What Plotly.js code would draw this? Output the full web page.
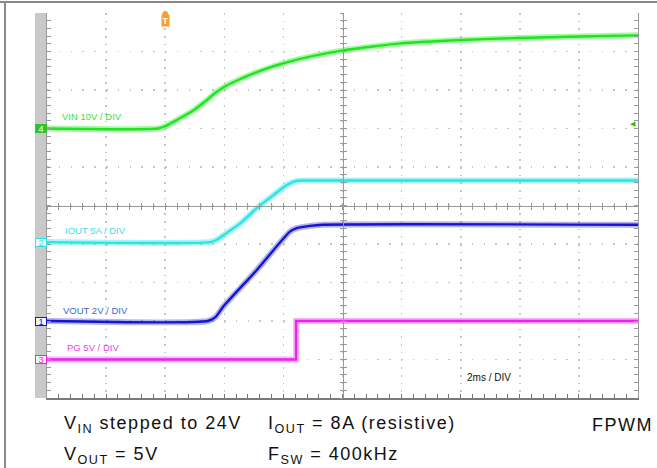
<!DOCTYPE html>
<html>
<head>
<meta charset="utf-8">
<script src="https://cdn.plot.ly/plotly-3.0.1.min.js"></script>
<style>
  html, body { margin: 0; padding: 0; background: #fff; }
  #chart { width: 657px; height: 468px; }
  .annotation-text[style*="font-size: 18px"] { letter-spacing: 1.5px; }
</style>
</head>
<body>
<div id="chart"></div>
<script>
// ---- time base (ms), 2 ms / div, trigger at t = 0 ----
const timeRange = [-4, 16];

// ---- channel data (read from the scope capture) ----
const vinTime = [-4, -0.25, 0.0, 0.44, 0.90, 1.35, 1.69, 2.02, 2.47, 2.93, 3.38, 3.72, 4.56, 5.24, 6.02, 6.93, 7.95, 10.0, 12.0, 14.0, 16.0];
const vinVolts = [0, 0, 0.6, 2.4, 4.4, 7.0, 9.2, 10.9, 12.6, 14.1, 15.4, 16.3, 18.1, 19.2, 20.3, 21.2, 22.1, 23.0, 23.5, 23.9, 24.2];

const ioutTime = [-4, 1.52, 1.75, 1.97, 2.53, 3.10, 3.66, 4.11, 4.45, 4.79, 16.0];
const ioutAmps = [0, 0, 0.3, 0.9, 2.4, 4.4, 6.1, 7.4, 7.95, 8.0, 8.0];

const voutTime = [-4, 1.45, 1.7, 1.96, 3.10, 4.22, 4.45, 4.9, 5.34, 16.0];
const voutVolts = [0, 0, 0.2, 0.74, 2.65, 4.64, 4.82, 4.94, 5.0, 5.0];

const pgTime = [-4, 4.43, 4.43, 16.0];
const pgVolts = [0, 0, 5.0, 5.0];

// ---- channel settings ----
const chNames = ['VIN', 'IOUT', 'VOUT', 'PG'];
const chNumbers = ['4', '2', '1', '3'];
const chLabels = ['VIN 10V / DIV', 'IOUT 5A / DIV', 'VOUT 2V / DIV', 'PG 5V / DIV'];
const chPerDiv = [10, 5, 2, 5];
const chZeroDiv = [2, -0.95, -3, -4];
const trigLevelVIN = 1.2;
const timeLabel = '2ms / DIV';
const noteLines = [
  ['V<sub>IN</sub> stepped to 24V', 'I<sub>OUT</sub> = 8A (resistive)', 'FPWM'],
  ['V<sub>OUT</sub> = 5V', 'F<sub>SW</sub> = 400kHz', '']
];

// ---- styling ----
const traceColors = ['#1fe41f', '#2ee3e3', '#1414d4', '#ee22ee'];
const haloColors = ['rgba(60,240,60,0.45)', 'rgba(60,235,235,0.45)', 'rgba(40,40,220,0.35)', 'rgba(240,60,240,0.4)'];
const labelColors = ['#3ddc3d', '#3ddede', '#3a68d0', '#ee3aee'];
const lineShapes = ['spline', 'spline', 'spline', 'linear'];
const font = 'Arial, "Liberation Sans", sans-serif';
const yIds = ['y', 'y2', 'y3', 'y4'];
const yKeys = ['yaxis', 'yaxis2', 'yaxis3', 'yaxis4'];

const series = [
  [vinTime, vinVolts],
  [ioutTime, ioutAmps],
  [voutTime, voutVolts],
  [pgTime, pgVolts]
];

const traces = [];
series.forEach((s, i) => {
  traces.push({x: s[0], y: s[1], xaxis: 'x', yaxis: yIds[i], mode: 'lines', hoverinfo: 'skip',
    line: {color: haloColors[i], width: 6, shape: lineShapes[i], smoothing: 0.6}});
  traces.push({x: s[0], y: s[1], xaxis: 'x', yaxis: yIds[i], mode: 'lines', hoverinfo: 'skip',
    line: {color: traceColors[i], width: 2.4, shape: lineShapes[i], smoothing: 0.6}});
});
// empty traces so the centre cross-hair axes get drawn
traces.push({x: [], y: [], xaxis: 'x2', yaxis: 'y', mode: 'lines', hoverinfo: 'skip'});
traces.push({x: [], y: [], xaxis: 'x3', yaxis: 'y', mode: 'lines', hoverinfo: 'skip'});
traces.push({x: [], y: [], xaxis: 'x', yaxis: 'y5', mode: 'lines', hoverinfo: 'skip'});
traces.push({x: [], y: [], xaxis: 'x', yaxis: 'y6', mode: 'lines', hoverinfo: 'skip'});

// plot area geometry helpers (paper coords)
const W = 657, H = 468, L = 47, R = 19, T = 13, B = 70;
const pw = W - L - R, ph = H - T - B;
const px = v => (v - L) / pw;
const py = v => (H - B - v) / ph;

const gridCol = '#c6c6c6';
const edgeCol = '#7a7a7a';
const centerCol = '#9a9a9a';

const chRange = i => [(-5 - chZeroDiv[i]) * chPerDiv[i], (5 - chZeroDiv[i]) * chPerDiv[i]];

const layout = {
  width: W, height: H,
  margin: {l: L, r: R, t: T, b: B, pad: 0},
  paper_bgcolor: '#ffffff', plot_bgcolor: '#ffffff',
  showlegend: false,
  font: {family: font},
  xaxis: {
    range: timeRange, dtick: 2, tick0: 0, showticklabels: false, zeroline: false,
    showgrid: true, gridcolor: gridCol, gridwidth: 1.6, griddash: '1.6px,6.1px',
    showline: true, linecolor: edgeCol, linewidth: 1.5,
    ticks: 'inside', ticklen: 4, tickcolor: edgeCol, tickwidth: 1,
    minor: {dtick: 0.4, tick0: 0, ticks: 'inside', ticklen: 4, tickcolor: edgeCol, showgrid: false},
    fixedrange: true
  },
  // main y axis = VIN channel; its divisions form the screen grid
  yaxis: {
    range: chRange(0), dtick: chPerDiv[0], tick0: 0, showticklabels: false, zeroline: false,
    showgrid: true, gridcolor: gridCol, gridwidth: 1.6, griddash: '1.6px,10.2px',
    showline: true, linecolor: centerCol, linewidth: 1.2, mirror: 'ticks',
    ticks: 'inside', ticklen: 4, tickcolor: centerCol, tickwidth: 1,
    minor: {dtick: chPerDiv[0] / 5, tick0: 0, ticks: 'inside', ticklen: 4, tickcolor: centerCol, showgrid: false},
    fixedrange: true
  },
  xaxis2: {overlaying: 'x', anchor: 'free', position: 0.5, range: timeRange, dtick: 2, tick0: 0,
    showticklabels: false, showgrid: false, zeroline: false,
    showline: true, linecolor: centerCol, linewidth: 1,
    ticks: 'inside', ticklen: 3, tickcolor: centerCol,
    minor: {dtick: 0.4, tick0: 0, ticks: 'inside', ticklen: 3, tickcolor: centerCol, showgrid: false}},
  xaxis3: {overlaying: 'x', anchor: 'free', position: 0.5, range: timeRange, dtick: 2, tick0: 0,
    showticklabels: false, showgrid: false, zeroline: false, showline: false,
    ticks: 'outside', ticklen: 3, tickcolor: centerCol,
    minor: {dtick: 0.4, tick0: 0, ticks: 'outside', ticklen: 3, tickcolor: centerCol, showgrid: false}},
  yaxis5: {overlaying: 'y', anchor: 'free', position: 0.5, range: [-5, 5], dtick: 1, tick0: 0,
    showticklabels: false, showgrid: false, zeroline: false,
    showline: true, linecolor: centerCol, linewidth: 1,
    ticks: 'inside', ticklen: 3, tickcolor: centerCol,
    minor: {dtick: 0.2, tick0: 0, ticks: 'inside', ticklen: 3, tickcolor: centerCol, showgrid: false}},
  yaxis6: {overlaying: 'y', anchor: 'free', position: 0.5, range: [-5, 5], dtick: 1, tick0: 0,
    showticklabels: false, showgrid: false, zeroline: false, showline: false,
    ticks: 'outside', ticklen: 3, tickcolor: centerCol,
    minor: {dtick: 0.2, tick0: 0, ticks: 'outside', ticklen: 3, tickcolor: centerCol, showgrid: false}},
  shapes: [
    // grey channel strip on the left
    {type: 'rect', xref: 'paper', yref: 'paper', x0: px(35), x1: 0, y0: 0, y1: 1,
      fillcolor: '#c9c9c9', line: {width: 0}, layer: 'below'},
    // outer frame (top and left)
    {type: 'line', xref: 'paper', yref: 'paper', x0: px(0), x1: px(657), y0: py(2), y1: py(2),
      line: {color: '#8a8a8a', width: 2}},
    {type: 'line', xref: 'paper', yref: 'paper', x0: px(5), x1: px(5), y0: py(2), y1: py(468),
      line: {color: '#8a8a8a', width: 2}},
    // trigger marker cap
    {type: 'circle', xref: 'x', yref: 'paper', x0: -0.1, x1: 0.1,
      y0: py(17), y1: py(11), fillcolor: '#f2a22c', line: {width: 0}}
  ],
  annotations: []
};

for (let i = 1; i < 4; i++) {
  layout[yKeys[i]] = {overlaying: 'y', range: chRange(i), visible: false, fixedrange: true};
}

// channel ground markers
for (let i = 0; i < 4; i++) {
  const active = i === 0;
  layout.annotations.push({
    xref: 'paper', yref: yIds[i], x: px(35), y: 0, xanchor: 'left', yanchor: 'middle',
    text: chNumbers[i], showarrow: false, width: 10, height: 7, align: 'center', valign: 'middle',
    font: {family: font, size: 9, color: active ? '#ffffff' : traceColors[i]},
    bgcolor: active ? '#2fc42f' : '#f6f6f6', bordercolor: active ? '#2fc42f' : traceColors[i],
    borderwidth: 1, borderpad: 0
  });
}
// channel labels
const labelPos = [[62, 117], [64.5, 230.5], [62.5, 310], [66.5, 347]];
for (let i = 0; i < 4; i++) {
  layout.annotations.push({
    xref: 'paper', yref: 'paper', x: px(labelPos[i][0] - 1), y: py(labelPos[i][1]),
    xanchor: 'left', yanchor: 'middle', text: chLabels[i], showarrow: false,
    font: {family: font, size: 9.5, color: labelColors[i]}, borderpad: 0
  });
}
// trigger level marker (right edge) and trigger position marker (top)
layout.annotations.push({
  xref: 'paper', yref: 'y', x: px(637), y: trigLevelVIN, xanchor: 'right', yanchor: 'middle',
  text: '◀', showarrow: false, font: {family: 'DejaVu Sans', size: 7, color: '#22c022'}, borderpad: 0
});
layout.annotations.push({
  xref: 'x', yref: 'paper', x: 0, y: py(14.5), xanchor: 'center', yanchor: 'top',
  text: '<b>T</b>', showarrow: false, font: {family: font, size: 9, color: '#ffffff'},
  bgcolor: '#f2a22c', borderpad: 0.5
});
// time base label
layout.annotations.push({
  xref: 'paper', yref: 'paper', x: px(466), y: py(377.5), xanchor: 'left', yanchor: 'middle',
  text: timeLabel, showarrow: false, font: {family: font, size: 10, color: '#111111'}, borderpad: 0
});
// notes below the screen
const noteX = [63, 267, 591];
const noteY = [424.5, 455.5];
noteLines.forEach((line, r) => {
  line.forEach((txt, c) => {
    if (!txt) return;
    layout.annotations.push({
      xref: 'paper', yref: 'paper', x: px(noteX[c]), y: py(noteY[r]), xanchor: 'left', yanchor: 'middle',
      text: txt, showarrow: false, font: {family: font, size: 18, color: '#111111'}, borderpad: 0
    });
  });
});

Plotly.newPlot('chart', traces, layout, {displayModeBar: false, staticPlot: true});
</script>
</body>
</html>
